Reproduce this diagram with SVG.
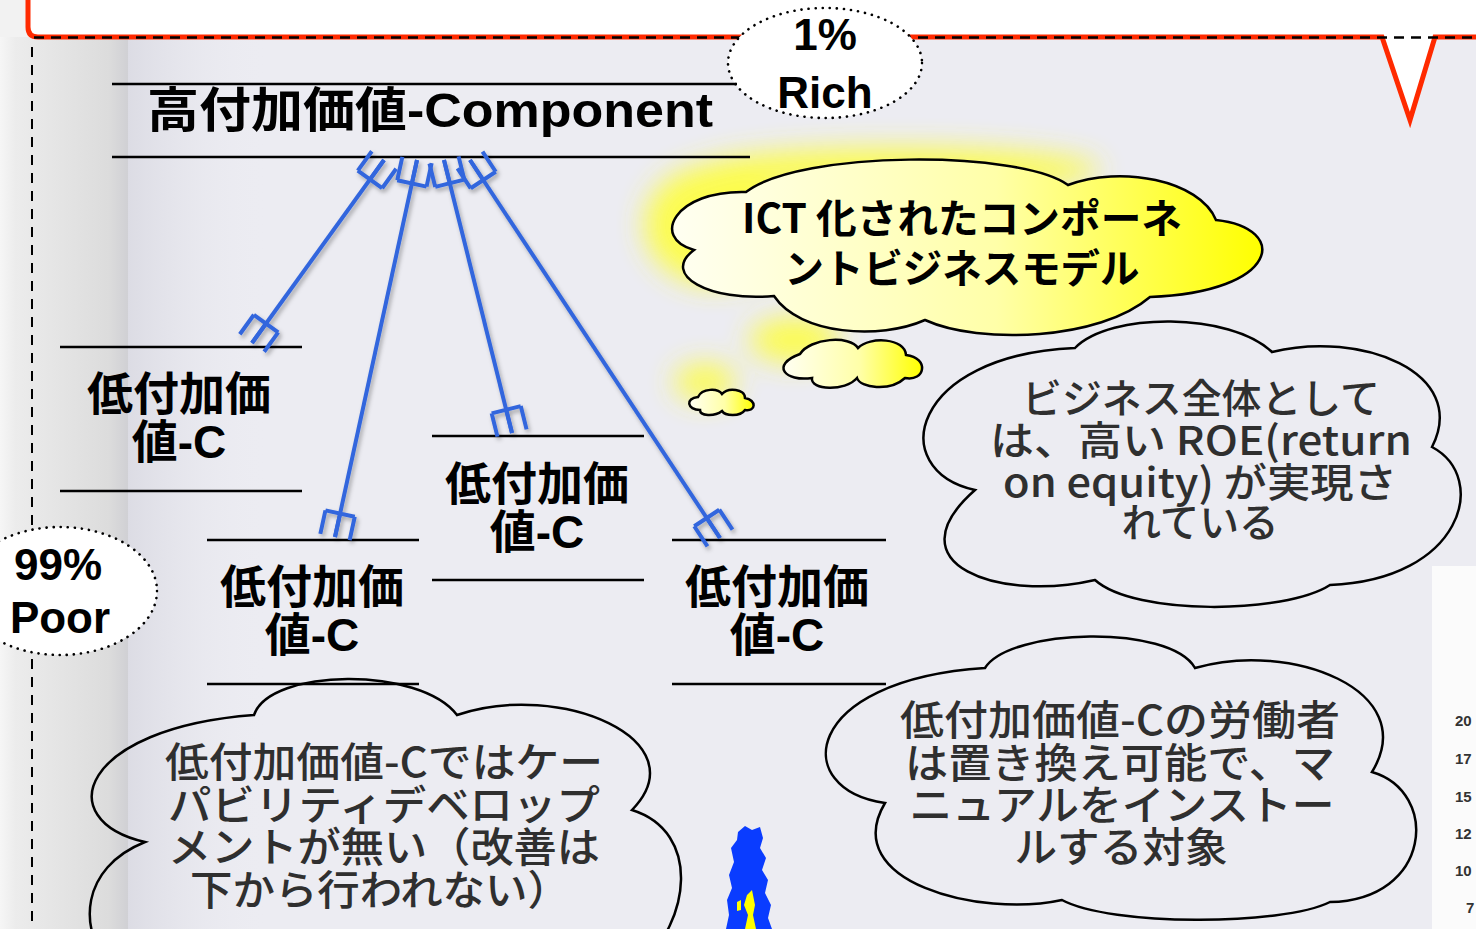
<svg xmlns="http://www.w3.org/2000/svg" width="1476" height="929" viewBox="0 0 1476 929">
<style>
.ttl{font-family:"Liberation Sans","Noto Sans CJK JP",sans-serif;font-weight:bold;fill:#000;text-anchor:middle}
.cjk{font-family:"Noto Sans CJK JP","Liberation Sans",sans-serif;font-weight:bold;fill:#000;text-anchor:middle}
.say{font-family:"Noto Sans CJK JP","Liberation Sans",sans-serif;font-weight:500;fill:#2f2f2f;text-anchor:middle}
.rule{stroke:#000;stroke-width:2.5}
.cloud{fill:none;stroke:#000;stroke-width:2.5;stroke-linejoin:miter}
.ycloud{stroke:#000;stroke-width:2.5}
.conn{fill:none;stroke:#3366dd;stroke-width:4;marker-start:url(#fork);marker-end:url(#fork)}
.dot{fill:#fff;stroke:#000;stroke-width:2.6;stroke-dasharray:0.1 7;stroke-linecap:round}
.num{font-family:"Liberation Sans",sans-serif;font-weight:bold;font-size:15px;fill:#333}
</style>
<defs>
<linearGradient id="leftStrip" x1="0" y1="0" x2="1" y2="0">
<stop offset="0" stop-color="#f6f6f6"/>
<stop offset="0.12" stop-color="#ececec"/>
<stop offset="0.85" stop-color="#dcdcdc"/>
<stop offset="1" stop-color="#d0d0d4"/>
</linearGradient>
<linearGradient id="fade" x1="0" y1="0" x2="1" y2="0">
<stop offset="0" stop-color="#dcdce4"/>
<stop offset="1" stop-color="#ececf2" stop-opacity="0"/>
</linearGradient>
<linearGradient id="yell" x1="0" y1="0" x2="1" y2="0">
<stop offset="0" stop-color="#fffff2"/>
<stop offset="0.55" stop-color="#ffffa8"/>
<stop offset="1" stop-color="#ffff00"/>
</linearGradient>
<filter id="glow" x="-50%" y="-50%" width="200%" height="200%">
<feGaussianBlur stdDeviation="14"/>
</filter>
<filter id="shadow" x="-20%" y="-20%" width="140%" height="140%">
<feDropShadow dx="2" dy="3" stdDeviation="2" flood-color="#000" flood-opacity="0.3"/>
</filter>
<marker id="fork" viewBox="-30 -20 34 40" refX="0" refY="0" markerWidth="34" markerHeight="40" markerUnits="userSpaceOnUse" orient="auto-start-reverse">
<path d="M-24,-15 L-24,15 M-24,-15 L0,-15 M-24,15 L0,15 M-26,0 L0,0" fill="none" stroke="#3366dd" stroke-width="4"/>
</marker>
</defs>

<g id="background">
<rect x="0" y="0" width="1476" height="929" fill="#ececf2"/>
<rect x="0" y="0" width="128" height="929" fill="url(#leftStrip)"/>
<rect x="128" y="0" width="140" height="929" fill="url(#fade)"/>
<path d="M0,0 H1476 V37 H1435 L1410,122 L1382,37 H0 Z" fill="#fff"/>
<rect x="0" y="0" width="28" height="37" fill="#f2f2f2"/>
<path d="M28,0 V27 Q28,37 38,37 H1382 L1410,120 L1435,37 H1476" fill="none" stroke="#ff2a00" stroke-width="5" stroke-linejoin="miter"/>
<line x1="34" y1="37.5" x2="1476" y2="37.5" stroke="#000" stroke-width="2.5" stroke-dasharray="10 7"/>
<line x1="32" y1="47" x2="32" y2="929" stroke="#000" stroke-width="2" stroke-dasharray="10 8"/>
<rect x="1432" y="566" width="44" height="363" fill="#fbfbfb"/>
<text class="num" x="1455" y="726">20</text>
<text class="num" x="1455" y="764">17</text>
<text class="num" x="1455" y="802">15</text>
<text class="num" x="1455" y="839">12</text>
<text class="num" x="1455" y="876">10</text>
<text class="num" x="1466" y="913">7</text>
</g>

<g id="glows" filter="url(#glow)" fill="#ffff30" opacity="0.85">
<ellipse cx="715" cy="225" rx="70" ry="60"/>
<ellipse cx="900" cy="170" rx="200" ry="22"/>
<ellipse cx="795" cy="340" rx="45" ry="22"/>
<ellipse cx="705" cy="382" rx="30" ry="18"/>
</g>

<g id="rich">
<ellipse class="dot" cx="825" cy="63" rx="97" ry="55"/>
<text class="ttl" x="825" y="50" font-size="44">1%</text>
<text class="ttl" x="825" y="108" font-size="44">Rich</text>
</g>

<g id="poor">
<ellipse class="dot" cx="60" cy="591" rx="97" ry="64"/>
<text class="ttl" x="58" y="580" font-size="44">99%</text>
<text class="ttl" x="60" y="633" font-size="44">Poor</text>
</g>

<g id="high-component">
<line class="rule" x1="112" y1="84" x2="737" y2="84"/>
<line class="rule" x1="112" y1="157" x2="750" y2="157"/>
<text class="ttl" x="430" y="127" font-size="48" textLength="566" lengthAdjust="spacingAndGlyphs">高付加価値-Component</text>
</g>

<g id="low-c1">
<line class="rule" x1="60" y1="347" x2="302" y2="347"/>
<line class="rule" x1="60" y1="491" x2="302" y2="491"/>
<text class="cjk" x="179" y="410" font-size="46">低付加価</text>
<text class="ttl" x="179" y="458" font-size="46">値-C</text>
</g>

<g id="low-c2">
<line class="rule" x1="207" y1="540" x2="419" y2="540"/>
<line class="rule" x1="207" y1="684" x2="419" y2="684"/>
<text class="cjk" x="312" y="603" font-size="46">低付加価</text>
<text class="ttl" x="312" y="651" font-size="46">値-C</text>
</g>

<g id="low-c3">
<line class="rule" x1="432" y1="436" x2="644" y2="436"/>
<line class="rule" x1="432" y1="580" x2="644" y2="580"/>
<text class="cjk" x="537" y="500" font-size="46">低付加価</text>
<text class="ttl" x="537" y="548" font-size="46">値-C</text>
</g>

<g id="low-c4">
<line class="rule" x1="672" y1="540" x2="886" y2="540"/>
<line class="rule" x1="672" y1="684" x2="886" y2="684"/>
<text class="cjk" x="777" y="603" font-size="46">低付加価</text>
<text class="ttl" x="777" y="651" font-size="46">値-C</text>
</g>

<g id="connectors" filter="url(#shadow)">
<path class="conn" d="M384,160 L252,343"/>
<path class="conn" d="M417,160 L335,537"/>
<path class="conn" d="M444,160 L512,433"/>
<path class="conn" d="M470,160 L720,538"/>
</g>

<g id="ict-cloud">
<path class="ycloud" fill="url(#yell)" d="M746,192 C800,150 1020,150 1068,185 C1120,165 1200,180 1216,220 C1290,228 1280,292 1150,297 C1100,340 980,345 925,320 C880,340 800,335 774,296 C710,302 660,275 694,250 C650,238 675,190 746,192 Z"/>
<text class="cjk" x="962" y="233" font-size="40" textLength="440" lengthAdjust="spacingAndGlyphs">ICT 化されたコンポーネ</text>
<text class="cjk" x="962" y="283" font-size="40" textLength="355" lengthAdjust="spacingAndGlyphs">ントビジネスモデル</text>
</g>

<g id="small-cloud-1">
<path class="ycloud" fill="url(#yell)" d="M800,354 C810,338 850,335 858,348 C870,336 905,338 906,355 C930,358 925,382 905,378 C890,392 860,388 857,378 C845,392 810,390 812,378 C785,382 770,365 800,354 Z"/>
</g>

<g id="small-cloud-2">
<path class="ycloud" fill="url(#yell)" d="M698,397 C702,388 718,388 722,394 C728,387 745,389 745,398 C757,400 756,412 745,410 C740,417 725,416 722,411 C714,417 700,416 700,410 C687,410 685,398 698,397 Z"/>
</g>

<g id="roe-cloud">
<path class="cloud" d="M1075,348 C1110,312 1230,312 1272,352 C1360,330 1470,372 1432,447 C1490,478 1462,580 1330,585 C1285,614 1135,616 1095,580 C1000,602 890,565 975,490 C885,470 910,355 1075,348 Z"/>
<text class="say" x="1201" y="413" font-size="40" textLength="358" lengthAdjust="spacingAndGlyphs">ビジネス全体として</text>
<text class="say" x="1201" y="455" font-size="40" textLength="422" lengthAdjust="spacingAndGlyphs">は、高い ROE(return</text>
<text class="say" x="1200" y="497" font-size="40" textLength="394" lengthAdjust="spacingAndGlyphs">on equity) が実現さ</text>
<text class="say" x="1200" y="537" font-size="40" textLength="157" lengthAdjust="spacingAndGlyphs">れている</text>
</g>

<g id="worker-cloud">
<path class="cloud" d="M985,668 C1010,628 1170,624 1195,668 C1290,640 1422,690 1372,772 C1440,792 1432,900 1330,902 C1282,926 1110,926 1062,900 C980,918 838,882 885,803 C790,790 800,680 985,668 Z"/>
<text class="say" x="1120" y="735" font-size="41" textLength="440" lengthAdjust="spacingAndGlyphs">低付加価値-Cの労働者</text>
<text class="say" x="1120" y="778" font-size="41" textLength="430" lengthAdjust="spacingAndGlyphs">は置き換え可能で、マ</text>
<text class="say" x="1122" y="820" font-size="41" textLength="425" lengthAdjust="spacingAndGlyphs">ニュアルをインストー</text>
<text class="say" x="1121" y="862" font-size="41" textLength="213" lengthAdjust="spacingAndGlyphs">ルする対象</text>
</g>

<g id="capability-cloud">
<path class="cloud" d="M254,715 C270,668 420,666 457,715 C560,680 700,740 632,810 C702,832 690,922 640,965 L110,965 C78,930 80,868 145,842 C50,820 80,728 254,715 Z"/>
<text class="say" x="384" y="777" font-size="41" textLength="438" lengthAdjust="spacingAndGlyphs">低付加価値-Cではケー</text>
<text class="say" x="384" y="820" font-size="41" textLength="432" lengthAdjust="spacingAndGlyphs">パビリティデベロップ</text>
<text class="say" x="384" y="862" font-size="41" textLength="432" lengthAdjust="spacingAndGlyphs">メントが無い（改善は</text>
<text class="say" x="380" y="905" font-size="41" textLength="380" lengthAdjust="spacingAndGlyphs">下から行われない）</text>
</g>

<g id="flame">
<path fill="#0a3cff" d="M738,832 L745,826 L752,830 L760,827 L763,838 L760,848 L766,858 L762,870 L768,880 L765,893 L771,905 L768,918 L772,929 L726,929 L729,915 L727,900 L732,888 L729,875 L734,862 L731,848 L737,840 Z"/>
<path fill="#ffff00" d="M747,895 L752,890 L755,905 L753,915 L756,929 L745,929 L748,915 L744,905 Z"/>
<path fill="#ffff00" d="M737,902 L741,900 L741,910 L737,911 Z"/>
</g>
</svg>
